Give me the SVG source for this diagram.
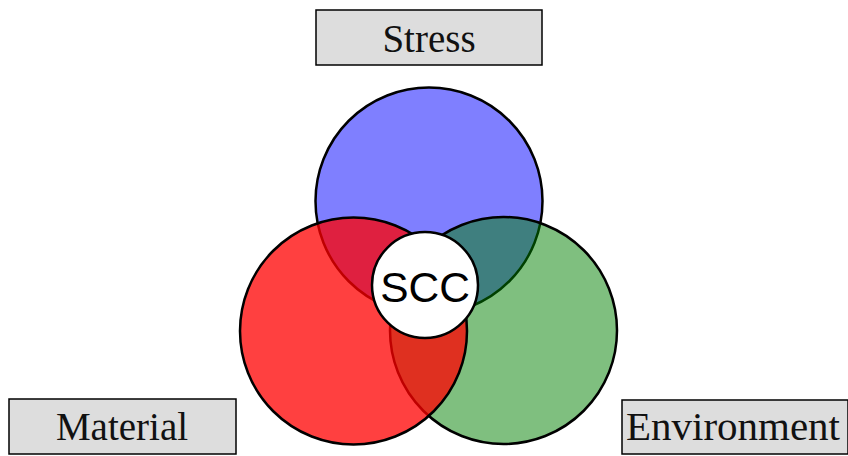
<svg xmlns="http://www.w3.org/2000/svg" width="848" height="456" viewBox="0 0 848 456">
<style>
.box{fill:#DDDDDD;stroke:#000;stroke-width:1.5}
.lbl{font-family:"Liberation Serif","Times New Roman",serif;font-size:39px;fill:#111;text-anchor:middle}
.c{stroke:#000;stroke-width:2.5}
</style>
<rect width="848" height="456" fill="#fff"/>
<g id="circles">
<circle id="stress-circle" class="c" cx="429" cy="201" r="113.5" fill="#0000FF" fill-opacity="0.5"/>
<circle id="environment-circle" class="c" cx="503.5" cy="330.5" r="113.5" fill="#008000" fill-opacity="0.5"/>
<circle id="material-circle" class="c" cx="353.5" cy="331" r="113.5" fill="#FF0000" fill-opacity="0.75"/>
</g>
<g id="scc">
<circle class="c" cx="425" cy="285" r="53" fill="#fff"/>
<text x="425" y="302" font-family="Liberation Sans, Arial, sans-serif" font-size="42.5" text-anchor="middle" fill="#000">SCC</text>
</g>
<g id="stress">
<rect class="box" x="316" y="10" width="226" height="55"/>
<text class="lbl" x="429" y="52">Stress</text>
</g>
<g id="material">
<rect class="box" x="9" y="399" width="227" height="55"/>
<text class="lbl" x="122" y="440">Material</text>
</g>
<g id="environment">
<rect class="box" x="622" y="400" width="226" height="54"/>
<text class="lbl" x="733" y="440" textLength="214" lengthAdjust="spacingAndGlyphs">Environment</text>
</g>
</svg>
